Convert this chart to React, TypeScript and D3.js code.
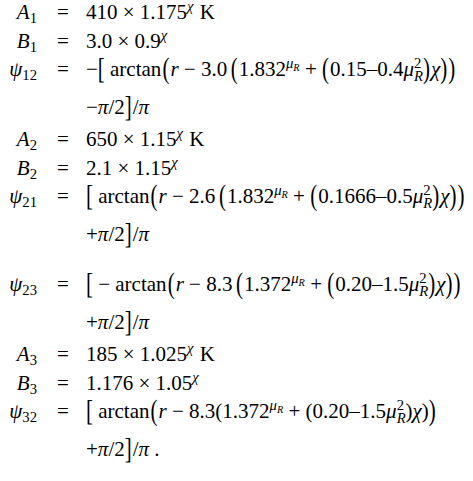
import { useEffect, useRef } from 'react';
import * as d3 from 'd3';

// ── Equation data ─────────────────────────────────────────
const A_PREFACTOR = ['410', '650', '185'];
const A_BASE = ['1.175', '1.15', '1.025'];
const B_PREFACTOR = ['3.0', '2.1', '1.176'];
const B_BASE = ['0.9', '1.15', '1.05'];

const PSI_INDEX = ['12', '21', '23', '32'];
const PSI_BLOCK = [0, 1, 1, 2];
const PSI_OUTER_SIGN = ['−', '', '', ''];
const PSI_INNER_SIGN = ['', '', '−', ''];
const PSI_FACTOR = ['3.0', '2.6', '8.3', '8.3'];
const PSI_MU_BASE = ['1.832', '1.832', '1.372', '1.372'];
const PSI_C0 = ['0.15', '0.1666', '0.20', '0.20'];
const PSI_C2 = ['0.4', '0.5', '1.5', '1.5'];
const PSI_SHIFT_SIGN = ['−', '+', '+', '+'];
const PSI_BIG_INNER = [true, true, true, false];

// ── Layout ────────────────────────────────────────────────
const W = 473;
const H = 481;
const SIZE = 21;
const LHS_RIGHT = 37;
const EQ_X = 63;
const RHS_X = 86;
const FIRST_BASELINE = 19;
const BIG_SCALE = 1.45;
const FONT = "'Liberation Serif', 'DejaVu Serif', serif";

type Atom =
  | { k: 'rm' | 'it' | 'big'; s: string }
  | { k: 'sp'; em: number }
  | { k: 'sup' | 'sub'; a: Atom[] }
  | { k: 'subsup'; sub: Atom[]; sup: Atom[] };

const rm = (s: string): Atom => ({ k: 'rm', s });
const it = (s: string): Atom => ({ k: 'it', s });
const big = (s: string): Atom => ({ k: 'big', s });
const sp = (em: number): Atom => ({ k: 'sp', em });
const sup = (...a: Atom[]): Atom => ({ k: 'sup', a });
const sub = (...a: Atom[]): Atom => ({ k: 'sub', a });
const subsup = (b: Atom[], p: Atom[]): Atom => ({ k: 'subsup', sub: b, sup: p });
const bin = (s: string): Atom[] => [sp(0.25), rm(s), sp(0.25)];

type Kind = 'A' | 'B' | 'psi' | 'cont';
interface Row { kind: Kind; lhs: Atom[]; rhs: Atom[] }

function buildRows(): Row[] {
  const rows: Row[] = [];
  A_PREFACTOR.forEach((_, b) => {
    const n = String(b + 1);
    rows.push({
      kind: 'A',
      lhs: [it('A'), sub(rm(n))],
      rhs: [rm(A_PREFACTOR[b]), ...bin('×'), rm(A_BASE[b]), sup(it('χ')), sp(0.3), rm('K')],
    });
    rows.push({
      kind: 'B',
      lhs: [it('B'), sub(rm(n))],
      rhs: [rm(B_PREFACTOR[b]), ...bin('×'), rm(B_BASE[b]), sup(it('χ'))],
    });
    PSI_INDEX.forEach((idx, j) => {
      if (PSI_BLOCK[j] !== b) return;
      const bigIn = PSI_BIG_INNER[j];
      const open = bigIn ? big('(') : rm('(');
      const close = bigIn ? big(')') : rm(')');
      const main: Atom[] = [];
      if (PSI_OUTER_SIGN[j]) main.push(rm(PSI_OUTER_SIGN[j]));
      main.push(big('['), sp(0.2));
      if (PSI_INNER_SIGN[j]) main.push(rm(PSI_INNER_SIGN[j]), sp(0.25));
      main.push(
        rm('arctan'), sp(0.05), big('('), it('r'), ...bin('−'), rm(PSI_FACTOR[j]),
        ...(bigIn ? [sp(0.17)] : []), open,
        rm(PSI_MU_BASE[j]), sup(it('μ'), sub(it('R'))), ...bin('+'),
        open, rm(`${PSI_C0[j]}–${PSI_C2[j]}`), it('μ'), subsup([it('R')], [rm('2')]),
        close, it('χ'), close, big(')'),
      );
      const last = j === PSI_INDEX.length - 1;
      const cont: Atom[] = [rm(PSI_SHIFT_SIGN[j]), it('π'), rm('/2'), big(']'), rm('/'), it('π')];
      if (last) cont.push(sp(0.25), rm('.'));
      rows.push({ kind: 'psi', lhs: [it('ψ'), sub(rm(idx))], rhs: main });
      rows.push({ kind: 'cont', lhs: [], rhs: cont });
    });
  });
  return rows;
}

// vertical gap before a row, given previous and current kind
function gapBefore(prev: Kind | null, cur: Kind): number {
  if (prev === null) return FIRST_BASELINE;
  if (cur === 'B') return 29;
  if (cur === 'psi') return prev === 'cont' ? 50 : 28;
  if (cur === 'cont') return 38;
  return 32;
}

function layout(g: d3.Selection<SVGGElement, unknown, null, undefined>, atoms: Atom[], x: number, y: number, size: number): number {
  for (const a of atoms) {
    if (a.k === 'rm' || a.k === 'it') {
      const t = g.append('text')
        .attr('x', x).attr('y', y)
        .attr('font-size', size)
        .attr('font-style', a.k === 'it' ? 'italic' : 'normal')
        .text(a.s);
      x += (t.node() as SVGTextElement).getComputedTextLength();
    } else if (a.k === 'big') {
      const axis = y - 0.25 * size;
      const t = g.append('text')
        .attr('transform', `translate(${x},${axis}) scale(1,${BIG_SCALE})`)
        .attr('y', 0.25 * size)
        .attr('font-size', size)
        .text(a.s);
      x += (t.node() as SVGTextElement).getComputedTextLength() + 1;
    } else if (a.k === 'sp') {
      x += a.em * size;
    } else if (a.k === 'sup') {
      x = layout(g, a.a, x, y - 0.37 * size, size * 0.7);
    } else if (a.k === 'sub') {
      x = layout(g, a.a, x, y + 0.2 * size, size * 0.7);
    } else {
      const x1 = layout(g, a.sup, x, y - 0.4 * size, size * 0.7);
      const x2 = layout(g, a.sub, x, y + 0.25 * size, size * 0.7);
      x = Math.max(x1, x2);
    }
  }
  return x;
}

export default function App() {
  const svgRef = useRef<SVGSVGElement>(null);

  useEffect(() => {
    if (!svgRef.current) return;
    const svg = d3.select(svgRef.current);
    svg.selectAll('*').remove();

    const rows = buildRows();
    const gaps = rows.map((r, i) => gapBefore(i === 0 ? null : rows[i - 1].kind, r.kind));
    const baselines = Array.from(d3.cumsum(gaps));
    const yScale = d3.scaleOrdinal<number, number>().domain(d3.range(rows.length)).range(baselines);

    rows.forEach((row, i) => {
      const y = yScale(i);
      if (row.lhs.length) {
        const lg = svg.append('g');
        const w = layout(lg, row.lhs, 0, y, SIZE);
        lg.attr('transform', `translate(${LHS_RIGHT - w},0)`);
        svg.append('text')
          .attr('x', EQ_X).attr('y', y)
          .attr('text-anchor', 'middle')
          .attr('font-size', SIZE)
          .text('=');
      }
      const rg = svg.append('g');
      layout(rg, row.rhs, RHS_X, y, SIZE);
    });
  }, []);

  return (
    <svg
      ref={svgRef}
      width={W}
      height={H}
      style={{ position: 'absolute', left: 0, top: 0, background: '#fff', fontFamily: FONT, fill: '#000' }}
    />
  );
}
